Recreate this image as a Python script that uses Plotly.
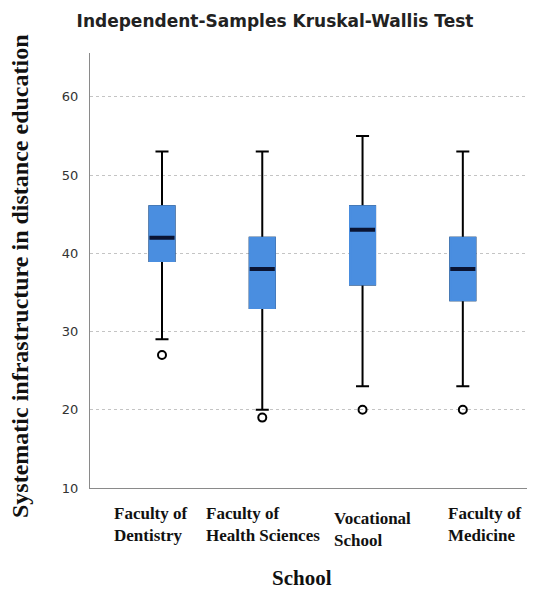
import plotly.graph_objects as go

# ---- data ----
schools = ["Faculty of Dentistry", "Faculty of Health Sciences", "Vocational School", "Faculty of Medicine"]
tick_labels = ["Faculty of<br>Dentistry", "Faculty of<br>Health Sciences", "Vocational<br>School", "Faculty of<br>Medicine"]
lower_whisker = [29, 20, 23, 23]
q1 = [39, 33, 36, 34]
median = [42, 38, 43, 38]
q3 = [46, 42, 46, 42]
upper_whisker = [53, 53, 55, 53]
outlier_school = ["Faculty of Dentistry", "Faculty of Health Sciences", "Vocational School", "Faculty of Medicine"]
outlier_value = [27, 19, 20, 20]
y_ticks = [10, 20, 30, 40, 50, 60]

BLUE = "#4a8ee0"
NAVY = "#0a1433"
serif = "Liberation Serif"

# page body adds an 8px offset; work in reference coordinates minus 8
OFF = 8
W, H = 535 - OFF, 589 - OFF

fig = go.Figure()
# whiskers (black) + box
fig.add_trace(go.Box(x=schools, q1=q1, median=median, q3=q3,
                     lowerfence=lower_whisker, upperfence=upper_whisker,
                     fillcolor=BLUE, line=dict(color="black", width=2),
                     width=0.25, whiskerwidth=0.52, boxpoints=False,
                     showlegend=False, hoverinfo="skip"))
# box body in blue (covers black outline)
fig.add_trace(go.Box(x=schools, q1=q1, median=median, q3=q3,
                     lowerfence=q1, upperfence=q3,
                     fillcolor=BLUE, line=dict(color=BLUE, width=2),
                     width=0.25, whiskerwidth=0.0, boxpoints=False,
                     showlegend=False, hoverinfo="skip"))
# median line
fig.add_trace(go.Box(x=schools, q1=median, median=median, q3=median,
                     lowerfence=median, upperfence=median,
                     fillcolor=NAVY, line=dict(color=NAVY, width=4),
                     width=0.25, whiskerwidth=1.0, boxpoints=False,
                     showlegend=False, hoverinfo="skip"))
# outliers
fig.add_trace(go.Scatter(x=outlier_school, y=outlier_value, mode="markers",
                         marker=dict(symbol="circle-open", size=8, color="black",
                                     line=dict(width=2, color="black")),
                         showlegend=False, hoverinfo="skip"))

label_xshift = [-50, -58, -31, -17]
label_yshift = [-14, -14, -19, -14]
annotations = []
for s, t, dx, dy in zip(schools, tick_labels, label_xshift, label_yshift):
    annotations.append(dict(x=s, xref="x", y=0, yref="paper", text=t, showarrow=False,
                            xanchor="left", yanchor="top", align="left",
                            xshift=dx, yshift=dy,
                            font=dict(family=serif, size=17, color="#111", weight="bold")))
annotations.append(dict(x=(302 - 90) / 440, xref="paper", y=(488 - 578) / 435, yref="paper",
                        text="School", showarrow=False, xanchor="center", yanchor="middle",
                        font=dict(family=serif, size=21, color="#111", weight="bold")))
annotations.append(dict(x=(20 - 90) / 440, xref="paper", y=(488 - 276) / 435, yref="paper",
                        text="Systematic infrastructure in distance education", showarrow=False,
                        textangle=-90, xanchor="center", yanchor="middle",
                        font=dict(family=serif, size=24, color="#111", weight="bold")))

fig.update_layout(
    width=W, height=H,
    margin=dict(l=90 - OFF, r=W - (530 - OFF), t=53 - OFF, b=H - (488 - OFF)),
    paper_bgcolor="white", plot_bgcolor="white",
    boxmode="overlay",
    title=dict(text="Independent-Samples Kruskal-Wallis Test",
               x=(275 - OFF) / W, xref="container", xanchor="center",
               y=1 - (21 - OFF) / H, yref="container", yanchor="middle",
               font=dict(family="DejaVu Sans", size=17, color="#222", weight="bold")),
    xaxis=dict(range=[-0.718, 3.67], showticklabels=False, showgrid=False, zeroline=False,
               showline=True, linecolor="#8a8a8a", linewidth=1, ticks="",
               categoryorder="array", categoryarray=schools),
    yaxis=dict(range=[10, 65.6], tickvals=y_ticks, showgrid=True, gridcolor="#c4c4c4",
               griddash="3px,3px", gridwidth=1, zeroline=False, showline=True,
               linecolor="#8a8a8a", linewidth=1, ticks="", ticklabelstandoff=8,
               tickfont=dict(family="DejaVu Sans", size=13, color="#333")),
    annotations=annotations,
)

fig.write_html("out.html")
